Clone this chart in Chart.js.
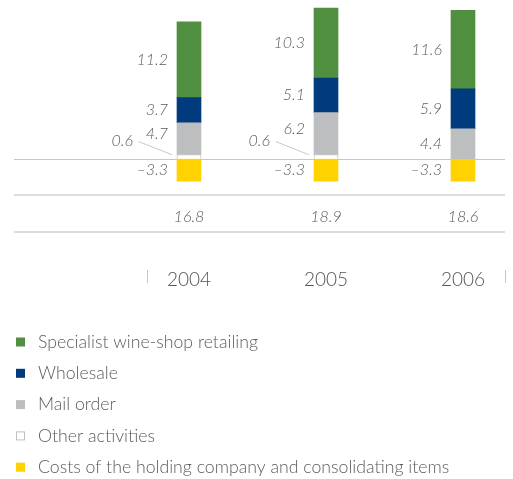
<!DOCTYPE html>
<html>
<head>
<meta charset="utf-8">
<script src="https://cdn.jsdelivr.net/npm/chart.js@4.4.0/dist/chart.umd.min.js"></script>
<style>
  html, body { margin: 0; padding: 0; background: #fff; }
</style>
</head>
<body>
<canvas id="chart" width="513" height="479"></canvas>
<script>
var years = ['2004', '2005', '2006'];
var specialist = [11.2, 10.3, 11.6];
var wholesale = [3.7, 5.1, 5.9];
var mailOrder = [4.7, 6.2, 4.4];
var otherActs = [0.6, 0.6, 0];
var holdingCosts = [-3.3, -3.3, -3.3];
var totals = ['16.8', '18.9', '18.6'];

var seriesNames = ['Specialist wine-shop retailing', 'Wholesale', 'Mail order', 'Other activities', 'Costs of the holding company and consolidating items'];
var seriesColors = ['#4f8f3f', '#003b7d', '#bdbec0', '#ffffff', '#ffd200'];

var FONT = 'Lato, "Open Sans", sans-serif';
var TXT = '#5c5c5c';

function fmt(v) {
  return v < 0 ? '\u2013' + Math.abs(v).toFixed(1) : v.toFixed(1);
}
function pts(arr) {
  return arr.map(function(v, i) { return {x: i, y: v}; });
}

// stacking order bottom -> top
var datasets = [
  {label: seriesNames[3], data: pts(otherActs), backgroundColor: seriesColors[3], borderColor: '#c8c8c8', borderWidth: 1},
  {label: seriesNames[2], data: pts(mailOrder), backgroundColor: seriesColors[2]},
  {label: seriesNames[1], data: pts(wholesale), backgroundColor: seriesColors[1]},
  {label: seriesNames[0], data: pts(specialist), backgroundColor: seriesColors[0]},
  {label: seriesNames[4], data: pts(holdingCosts), backgroundColor: seriesColors[4]}
];

function line(ctx, x1, y1, x2, y2) {
  ctx.beginPath(); ctx.moveTo(x1, y1); ctx.lineTo(x2, y2); ctx.stroke();
}

var overlay = {
  id: 'overlay',
  beforeDatasetsDraw: function(chart) {
    var ctx = chart.ctx, ca = chart.chartArea;
    var y0 = Math.round(chart.scales.y.getPixelForValue(0));
    ctx.save();
    ctx.strokeStyle = '#c6c6c6'; ctx.lineWidth = 1;
    line(ctx, ca.left, y0 + 0.5, ca.right, y0 + 0.5);
    ctx.strokeStyle = '#dcdcdc'; ctx.lineWidth = 2;
    line(ctx, ca.left, y0 + 36, ca.right, y0 + 36);
    line(ctx, ca.left, y0 + 73, ca.right, y0 + 73);
    ctx.strokeStyle = '#c6c6c6'; ctx.lineWidth = 1;
    line(ctx, 147.5, 270, 147.5, 283);
    line(ctx, 505.5, 270, 505.5, 283);
    ctx.restore();
  },
  afterDatasetsDraw: function(chart) {
    var ctx = chart.ctx;
    var y0 = chart.scales.y.getPixelForValue(0);
    ctx.save();
    ctx.fillStyle = TXT;
    ctx.font = 'italic 300 16px ' + FONT;
    ctx.textBaseline = 'middle';
    chart.data.datasets.forEach(function(ds, di) {
      var meta = chart.getDatasetMeta(di);
      meta.data.forEach(function(el, j) {
        var v = ds.data[j].y;
        if (!v) return;
        var left = el.x - el.width / 2;
        ctx.textAlign = 'right';
        if (di === 0) {
          ctx.fillText(fmt(v), left - 44, y0 - 18);
          ctx.strokeStyle = '#c8c8c8'; ctx.lineWidth = 1;
          line(ctx, left - 38, y0 - 17, left - 5, y0 - 4);
          return;
        }
        var ym = (el.y + el.base) / 2;
        if (di === 1 && otherActs[j]) ym -= 5;
        ctx.fillText(fmt(v), left - 9, ym);
      });
    });
    ctx.textAlign = 'center';
    years.forEach(function(y, j) {
      var x = chart.scales.x.getPixelForValue(j);
      ctx.fillText(totals[j], x, y0 + 58);
    });
    // legend
    var order = [3, 2, 1, 0, 4];
    ctx.font = '300 17.7px ' + FONT;
    ctx.textAlign = 'left';
    order.forEach(function(di, k) {
      var ds = chart.data.datasets[di];
      var cy = 342 + k * 31.3;
      ctx.fillStyle = ds.backgroundColor;
      ctx.fillRect(16, cy - 4.5, 9, 9);
      if (ds.borderWidth) {
        ctx.strokeStyle = '#c0c0c0'; ctx.lineWidth = 1;
        ctx.strokeRect(16.5, cy - 4, 8, 8);
      }
      ctx.fillStyle = TXT;
      ctx.fillText(ds.label, 38, cy);
    });
    ctx.restore();
  }
};

new Chart(document.getElementById('chart'), {
  type: 'bar',
  data: {datasets: datasets},
  options: {
    responsive: false,
    devicePixelRatio: 1,
    animation: false,
    layout: {padding: {top: 0, left: 14, right: 8, bottom: 183}},
    barThickness: 24,
    plugins: {legend: {display: false}, tooltip: {enabled: false}},
    scales: {
      x: {
        type: 'linear', stacked: true, offset: false,
        min: -1.2774, max: 2.3066,
        grid: {display: false, drawTicks: false}, border: {display: false},
        afterBuildTicks: function(s) { s.ticks = years.map(function(y, i) { return {value: i}; }); },
        ticks: {
          padding: 5,
          color: '#555',
          font: {family: FONT, size: 19, weight: '300'},
          callback: function(v) { return years[v]; }
        }
      },
      y: {
        stacked: true, display: false,
        min: -15.407, max: 23.407
      }
    }
  },
  plugins: [overlay]
});
</script>
</body>
</html>
